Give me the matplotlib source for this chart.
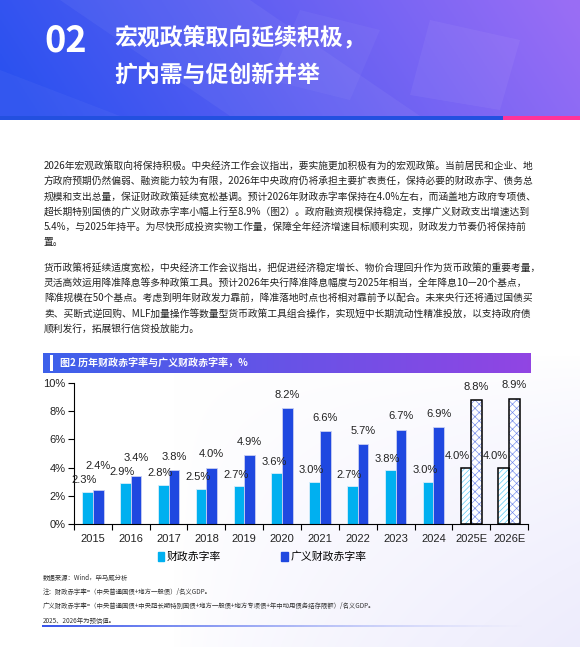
import numpy as np
import matplotlib
matplotlib.use("Agg")
import matplotlib.pyplot as plt
from matplotlib import font_manager
from matplotlib.patches import Rectangle, Patch, Polygon

# ===============================
# DATA
# ===============================
years = ["2015", "2016", "2017", "2018", "2019", "2020",
         "2021", "2022", "2023", "2024", "2025E", "2026E"]
deficit = [2.3, 2.9, 2.8, 2.5, 2.7, 3.6, 3.0, 2.7, 3.8, 3.0, 4.0, 4.0]
broad_deficit = [2.4, 3.4, 3.8, 4.0, 4.9, 8.2, 6.6, 5.7, 6.7, 6.9, 8.8, 8.9]
estimated = [False] * 10 + [True, True]
yticks = [0, 2, 4, 6, 8, 10]
series_names = ["财政赤字率", "广义财政赤字率"]

header_no = "02"
header_lines = ["宏观政策取向延续积极，", "扩内需与促创新并举"]
para1 = [
    "2026年宏观政策取向将保持积极。中央经济工作会议指出，要实施更加积极有为的宏观政策。当前居民和企业、地",
    "方政府预期仍然偏弱、融资能力较为有限，2026年中央政府仍将承担主要扩表责任，保持必要的财政赤字、债务总",
    "规模和支出总量，保证财政政策延续宽松基调。预计2026年财政赤字率保持在4.0%左右，而涵盖地方政府专项债、",
    "超长期特别国债的广义财政赤字率小幅上行至8.9%（图2）。政府融资规模保持稳定，支撑广义财政支出增速达到",
    "5.4%，与2025年持平。为尽快形成投资实物工作量，保障全年经济增速目标顺利实现，财政发力节奏仍将保持前",
    "置。",
]
para2 = [
    "货币政策将延续适度宽松，中央经济工作会议指出，把促进经济稳定增长、物价合理回升作为货币政策的重要考量，",
    "灵活高效运用降准降息等多种政策工具。预计2026年央行降准降息幅度与2025年相当，全年降息10—20个基点，",
    "降准规模在50个基点。考虑到明年财政发力靠前，降准落地时点也将相对靠前予以配合。未来央行还将通过国债买",
    "卖、买断式逆回购、MLF加量操作等数量型货币政策工具组合操作，实现短中长期流动性精准投放，以支持政府债",
    "顺利发行，拓展银行信贷投放能力。",
]
chart_title = "图2 历年财政赤字率与广义财政赤字率，%"
notes = [
    "数据来源：Wind，毕马威分析",
    "注：财政赤字率=（中央普通国债+地方一般债）/名义GDP。",
    "广义财政赤字率=（中央普通国债+中央超长期特别国债+地方一般债+地方专项债+年中动用债务结存限额）/名义GDP。",
    "2025、2026年为预估值。",
]

# ===============================
# FONTS / COLOURS
# ===============================
names = {f.name for f in font_manager.fontManager.ttflist}
if "Liberation Sans Narrow" in names:
    num_font = "Liberation Sans Narrow"
elif "DejaVu Sans Condensed" in names:
    num_font = "DejaVu Sans Condensed"
else:
    num_font = "Liberation Sans"
plt.rcParams["font.family"] = ["Noto Sans CJK SC", "DejaVu Sans"]
plt.rcParams["hatch.linewidth"] = 0.45

light_blue = "#00B0F0"
dark_blue = "#1F48E0"

W, H = 580, 647
fig = plt.figure(figsize=(W / 100, H / 100), dpi=100)

# ===============================
# BACKGROUND (pixel coordinates)
# ===============================
bg = fig.add_axes([0, 0, 1, 1])
bg.set_xlim(0, W)
bg.set_ylim(H, 0)
bg.axis("off")

xx, yy = np.meshgrid(np.linspace(0, 1, W), np.linspace(0, 1, H))
f = np.clip((xx - 0.3) / 0.7, 0, 1) * np.clip((yy - 0.55) / 0.45, 0, 1)
f = f ** 0.7
tint = np.array([0.93, 0.925, 0.99])
img = np.ones((H, W, 3)) * (1 - f[..., None]) + tint * f[..., None]
bg.imshow(img, extent=[0, W, H, 0], aspect="auto", zorder=0)

# header gradient
hx, hy = np.meshgrid(np.linspace(0, 1, 300), np.linspace(0, 1, 60))
left = np.array([0.17, 0.32, 0.94])
right = np.array([0.60, 0.43, 0.96])
t = np.clip(hx * 0.95 + (1 - hy) * 0.12 - 0.05, 0, 1)[..., None]
head = left * (1 - t) + right * t
bg.imshow(head, extent=[0, W, 116, 0], aspect="auto", zorder=1)
for pts, a in [([(60, 0), (250, 0), (420, 116), (230, 116)], 0.05),
               ([(300, 10), (380, 30), (350, 100), (270, 80)], 0.04),
               ([(430, 20), (520, 40), (500, 110), (410, 95)], 0.05),
               ([(0, 70), (120, 116), (0, 116)], 0.04)]:
    bg.add_patch(Polygon(pts, closed=True, color="white", alpha=a, lw=0, zorder=2))
bg.add_patch(Rectangle((0, 116), 503, 4, color="#2350E0", lw=0, zorder=3))
bg.add_patch(Rectangle((503, 116), 77, 4, color="#FF3399", lw=0, zorder=3))

bg.text(44, 41, header_no, fontsize=26, weight="bold", color="white",
        va="center", ha="left", zorder=4)
for k, line in enumerate(header_lines):
    bg.text(114, 39 + k * 37, line, fontsize=16.5, weight="bold",
            color="white", va="center", ha="left", zorder=4)

# body text
for k, line in enumerate(para1):
    bg.text(44, 166 + k * 15.3, line, fontsize=7, color="#222222",
            va="center", ha="left", zorder=4)
for k, line in enumerate(para2):
    bg.text(44, 268 + k * 15.1, line, fontsize=7, color="#222222",
            va="center", ha="left", zorder=4)

# chart title bar
gx = np.linspace(0, 1, 300)[None, :, None]
bar_img = np.array([0.24, 0.38, 0.92]) * (1 - gx) + np.array([0.57, 0.27, 0.89]) * gx
bg.imshow(np.repeat(bar_img, 4, axis=0), extent=[43, 531, 373, 353],
          aspect="auto", zorder=3)
bg.add_patch(Rectangle((50, 355), 3, 16, color="white", lw=0, zorder=4))
bg.text(60, 363.5, chart_title, fontsize=7.2, weight="bold", color="white",
        va="center", ha="left", zorder=5)

# footnotes
for k, line in enumerate(notes):
    bg.text(43, 578 + k * 14.2, line, fontsize=4.6, color="#333333",
            va="center", ha="left", zorder=4)
ul = np.zeros((2, 300, 4))
ul[..., 0], ul[..., 1], ul[..., 2] = 0.22, 0.33, 0.92
ul[..., 3] = np.linspace(1, 0, 300) ** 1.3
bg.imshow(ul, extent=[42, 530, 627.3, 625.8], aspect="auto", zorder=4)

# ===============================
# CHART
# ===============================
ax = fig.add_axes([74 / W, (H - 524) / H, (528 - 74) / W, (524 - 383) / H])
ax.patch.set_alpha(0)
x = np.arange(len(years))
bw = 0.28

for i in x:
    if estimated[i]:
        ax.bar(x[i] - bw / 2, deficit[i], bw, color="white", edgecolor="#4cc6f2",
               hatch="//////", lw=0, zorder=2)
        ax.bar(x[i] + bw / 2, broad_deficit[i], bw, color="white", edgecolor="#7088ec",
               hatch="xxxx", lw=0, zorder=2)
        ax.bar(x[i] - bw / 2, deficit[i], bw, color="none", edgecolor="black",
               lw=1.1, zorder=3)
        ax.bar(x[i] + bw / 2, broad_deficit[i], bw, color="none", edgecolor="black",
               lw=1.1, zorder=3)
    else:
        ax.bar(x[i] - bw / 2, deficit[i], bw, color=light_blue,
               edgecolor="#d8eefa", lw=0.6, zorder=2)
        ax.bar(x[i] + bw / 2, broad_deficit[i], bw, color=dark_blue,
               edgecolor="#c9cff2", lw=0.6, zorder=2)

# value labels
lab_kw = dict(fontsize=8, family=num_font, color="#222222",
              ha="center", va="center", zorder=5)
for i in x:
    ly = deficit[i] + 0.8
    dy = max(broad_deficit[i] + 0.93, ly + 1.0)
    shift = 0.22 if estimated[i] else 0.08
    ax.text(x[i] - bw / 2 - shift, ly, f"{deficit[i]:.1f}%", **lab_kw)
    ax.text(x[i] + bw / 2, dy, f"{broad_deficit[i]:.1f}%", **lab_kw)

ax.set_xlim(-0.5, len(years) - 0.5)
ax.set_ylim(0, 10)
ax.set_yticks(yticks)
ax.set_yticklabels([f"{v}%" for v in yticks], family=num_font, fontsize=8,
                   color="#222222")
ax.set_xticks(np.arange(len(years) + 1) - 0.5)
ax.set_xticklabels([])
ax.set_xticks(x, minor=True)
ax.set_xticklabels(years, minor=True, family=num_font, fontsize=8, color="#222222")
ax.tick_params(axis="x", which="major", direction="out", length=4, width=0.8)
ax.tick_params(axis="x", which="minor", length=0, pad=7)
ax.tick_params(axis="y", direction="out", length=4, width=0.8, pad=2)
for s in ["top", "right"]:
    ax.spines[s].set_visible(False)
for s in ["left", "bottom"]:
    ax.spines[s].set_linewidth(0.8)

handles = [Patch(color=light_blue), Patch(color=dark_blue)]
ax.legend(handles, series_names, loc="center", bbox_to_anchor=(262, 557),
          bbox_transform=bg.transData, ncol=2, frameon=False, fontsize=7.8,
          handlelength=0.6, handleheight=0.8, handletextpad=0.2,
          columnspacing=5.6, borderaxespad=0)

fig.savefig("out.png", dpi=100)
